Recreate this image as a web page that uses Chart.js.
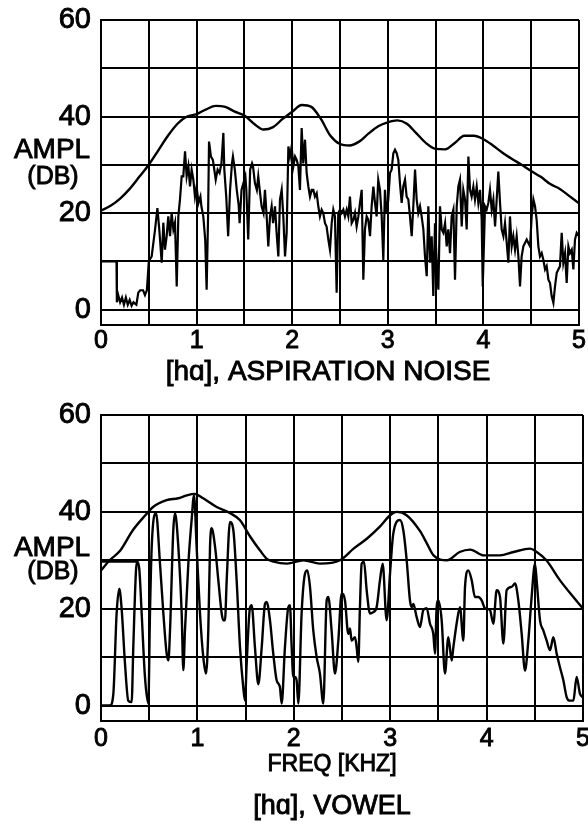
<!DOCTYPE html>
<html>
<head>
<meta charset="utf-8">
<script src="https://cdn.jsdelivr.net/npm/chart.js@4.4.0/dist/chart.umd.min.js"></script>
<style>
  body { margin: 0; background: #fff; }
  canvas { position: absolute; left: 0; }
  #noise { top: 0; }
  #vowel { top: 400px; }
</style>
</head>
<body>
<canvas id="noise" width="588" height="400"></canvas>
<canvas id="vowel" width="588" height="429"></canvas>
<script>
// tick positions shared by both panels
const freqTicks = [0, 0.5, 1, 1.5, 2, 2.5, 3, 3.5, 4, 4.5, 5];
const dbTicks = [0, 10, 20, 30, 40, 50, 60];

// [ha] aspiration noise: raw spectrum (kHz, dB)
const noiseFreq = [0, 0.162, 0.166, 0.18, 0.2, 0.22, 0.24, 0.26, 0.28, 0.3, 0.32, 0.34, 0.37, 0.39, 0.41, 0.44, 0.46, 0.48, 0.5, 0.53,
  0.565, 0.59, 0.61, 0.635, 0.652, 0.669, 0.687, 0.704, 0.722, 0.739, 0.757, 0.774, 0.792, 0.809, 0.826, 0.844, 0.861, 0.879, 0.896, 0.914,
  0.931, 0.948, 0.966, 0.983, 1.0, 1.02, 1.04, 1.05, 1.07, 1.09, 1.105, 1.12, 1.13, 1.15, 1.17, 1.18, 1.2, 1.22, 1.24, 1.26,
  1.28, 1.29, 1.31, 1.33, 1.35, 1.37, 1.38, 1.4, 1.42, 1.44, 1.45, 1.47, 1.49, 1.51, 1.52, 1.54, 1.56, 1.58, 1.59, 1.61,
  1.63, 1.645, 1.66, 1.68, 1.7, 1.715, 1.733, 1.75, 1.768, 1.785, 1.8, 1.82, 1.837, 1.855, 1.872, 1.89, 1.907, 1.925, 1.942, 1.96,
  1.977, 1.994, 2.012, 2.03, 2.047, 2.064, 2.081, 2.099, 2.116, 2.134, 2.151, 2.169, 2.186, 2.204, 2.221, 2.238, 2.256, 2.273, 2.29, 2.308,
  2.325, 2.343, 2.36, 2.378, 2.395, 2.413, 2.43, 2.447, 2.465, 2.482, 2.5, 2.517, 2.535, 2.552, 2.57, 2.587, 2.604, 2.622, 2.64, 2.657,
  2.674, 2.692, 2.709, 2.727, 2.744, 2.761, 2.779, 2.796, 2.814, 2.831, 2.849, 2.866, 2.883, 2.9, 2.918, 2.936, 2.953, 2.97, 2.988, 3.005,
  3.023, 3.04, 3.058, 3.075, 3.093, 3.11, 3.127, 3.145, 3.162, 3.18, 3.197, 3.215, 3.232, 3.25, 3.267, 3.285, 3.302, 3.319, 3.337, 3.354,
  3.372, 3.389, 3.407, 3.424, 3.442, 3.459, 3.476, 3.494, 3.511, 3.529, 3.546, 3.564, 3.581, 3.599, 3.616, 3.633, 3.651, 3.668, 3.686, 3.703,
  3.721, 3.738, 3.755, 3.773, 3.79, 3.808, 3.825, 3.843, 3.86, 3.877, 3.895, 3.912, 3.93, 3.947, 3.965, 3.982, 3.993, 4.017, 4.034, 4.052,
  4.069, 4.087, 4.104, 4.122, 4.139, 4.156, 4.174, 4.191, 4.209, 4.226, 4.244, 4.261, 4.278, 4.296, 4.313, 4.331, 4.348, 4.366, 4.383, 4.4,
  4.418, 4.435, 4.453, 4.47, 4.488, 4.505, 4.523, 4.54, 4.557, 4.575, 4.592, 4.61, 4.627, 4.645, 4.662, 4.68, 4.697, 4.714, 4.732, 4.749,
  4.767, 4.784, 4.801, 4.819, 4.836, 4.854, 4.871, 4.889, 4.906, 4.924, 4.941, 4.958, 4.976, 5.0];
const noiseDb = [10, 10, 1.5, 3, 1.5, 2.5, 1, 2.5, 1, 2, 0.8, 1.5, 1, 3.5, 4, 4, 3, 4, 10, 11,
  16.5, 21, 16.5, 9.7, 18, 12.4, 15.2, 19.3, 15.2, 20, 16.6, 18, 4.8, 19.3, 22.8, 27.6, 27.6, 32.8, 27.6, 29.7,
  25.5, 29, 26.9, 23.4, 25.5, 22.1, 23.4, 21.4, 19.3, 14.5, 4.1, 19.3, 34.8, 31.7, 31, 29.7, 26.9, 29, 28.3, 30.3,
  36.6, 29, 23.4, 15.2, 24.8, 30.3, 31.7, 29, 24.8, 21.7, 17.9, 24.8, 26.2, 27.6, 24.8, 14.5, 29, 30.3, 29.7, 26.2,
  24.8, 27.6, 24.8, 21.4, 20, 24.8, 19.3, 13.1, 19.3, 21.4, 17.9, 21.4, 15.9, 11, 22.8, 24.8, 19.3, 11, 15.9, 33.8,
  31.7, 33.8, 29.7, 31.7, 31, 29.7, 24.8, 37.6, 30.3, 35.2, 28.3, 25.5, 23.4, 24.8, 24.8, 23.4, 24.1, 21.4, 19.3, 20.7,
  20, 17.9, 17.2, 14.5, 12.4, 17.9, 20.7, 19.3, 3.5, 20, 20.7, 20, 20.7, 19.3, 20.7, 19.3, 23.4, 17.9, 18.6, 20,
  17.2, 19.3, 22.1, 24.8, 6.2, 16.6, 19.3, 18.6, 15.2, 21.4, 25.5, 22.1, 19.3, 26.9, 24.8, 19.3, 10.3, 24.8, 20, 22.8,
  28.3, 29, 32.4, 33.1, 32.4, 31, 26.2, 22.1, 25.5, 26.9, 23.4, 22.8, 19.3, 15.2, 21.4, 29, 22.8, 20, 21.4, 19.3,
  16.6, 11, 6.9, 21.4, 9.7, 15.2, 2.8, 17.9, 9.7, 4.1, 21.4, 16.6, 15.9, 17.9, 13.1, 16.6, 11.7, 19.3, 20.7, 6.2,
  21.4, 25.5, 26.9, 17.2, 24.8, 22.8, 16.6, 31.7, 24.8, 23.4, 25.5, 22.8, 25.5, 22.1, 24.8, 18.6, 4.8, 21.4, 20.7, 22.1,
  24.8, 20.7, 22.8, 17.2, 22.8, 28.6, 22.1, 16.6, 15.2, 17.9, 13.8, 9.7, 19.3, 13.1, 15.2, 12.4, 15.2, 11, 4.8, 11,
  13.1, 13.8, 14.5, 13.8, 13.1, 19.3, 22.8, 21.4, 18.6, 13.1, 11, 11.7, 10.3, 8.3, 9, 6.2, 5.5, 2.8, 1.4, 4.8,
  7.6, 8.3, 9, 15.9, 9.7, 11.7, 5.5, 13.1, 11.7, 12.4, 8.3, 14.5, 15.9, 15.2];

// [ha] aspiration noise: smoothed envelope
const noiseEnvFreq = [0, 0.1, 0.2, 0.3, 0.4, 0.5, 0.6, 0.7, 0.8, 0.9, 1.0, 1.1, 1.2, 1.3, 1.4, 1.5, 1.6, 1.7, 1.8, 1.9, 2.0,
  2.1, 2.2, 2.3, 2.4, 2.5, 2.6, 2.7, 2.8, 2.9, 3.0, 3.1, 3.2, 3.3, 3.4, 3.5, 3.6, 3.7, 3.8, 3.9, 4.0,
  4.1, 4.2, 4.3, 4.4, 4.5, 4.6, 4.7, 4.8, 4.9, 5.0];
const noiseEnvDb = [20.5, 21.5, 23, 25, 27.5, 30, 33, 36, 38.5, 40, 40.5, 41.5, 42.2, 42, 41, 40.2, 38.5, 37.3, 37.8, 39.5, 41,
  42.4, 42, 39.5, 36, 34.3, 34, 34.8, 36.5, 38, 38.8, 39.2, 38.5, 36.5, 34.5, 33.3, 33.2, 34.5, 36, 36, 35.3,
  34, 32.5, 31.2, 30, 28.7, 27.5, 26, 25, 23.5, 22];

// [ha] vowel: harmonic spectrum
const vowelFreq = [0, 0.093, 0.128, 0.162, 0.19, 0.214, 0.249, 0.283, 0.318, 0.335, 0.363, 0.377, 0.398, 0.422, 0.456, 0.491, 0.508, 0.526, 0.571, 0.612,
  0.647, 0.681, 0.699, 0.716, 0.75, 0.768, 0.802, 0.837, 0.854, 0.871, 0.906, 0.94, 0.965, 0.992, 1.027, 1.061, 1.089, 1.113, 1.131, 1.148,
  1.183, 1.217, 1.252, 1.269, 1.286, 1.304, 1.338, 1.373, 1.407, 1.442, 1.476, 1.494, 1.511, 1.546, 1.563, 1.597, 1.632, 1.667, 1.701, 1.718,
  1.753, 1.787, 1.822, 1.856, 1.874, 1.908, 1.943, 1.96, 1.978, 1.995, 2.012, 2.029, 2.047, 2.081, 2.116, 2.14, 2.168, 2.202, 2.237, 2.271,
  2.306, 2.341, 2.358, 2.392, 2.427, 2.462, 2.496, 2.531, 2.565, 2.583, 2.6, 2.635, 2.652, 2.669, 2.686, 2.704, 2.728, 2.756, 2.79, 2.825,
  2.859, 2.894, 2.922, 2.963, 2.998, 3.032, 3.101, 3.136, 3.171, 3.205, 3.222, 3.24, 3.274, 3.309, 3.343, 3.378, 3.413, 3.447, 3.465, 3.482,
  3.499, 3.534, 3.568, 3.603, 3.638, 3.655, 3.689, 3.724, 3.759, 3.776, 3.81, 3.845, 3.88, 3.914, 3.949, 3.983, 4.035, 4.07, 4.104, 4.139,
  4.174, 4.208, 4.26, 4.295, 4.329, 4.364, 4.398, 4.433, 4.467, 4.502, 4.519, 4.554, 4.588, 4.623, 4.658, 4.692, 4.727, 4.761, 4.796, 4.831,
  4.865, 4.9, 4.934, 4.969, 5.0];
const vowelDb = [0, 0, 2.4, 19, 24.1, 20, 8.6, 1, 0.7, 12, 27.9, 29.7, 28, 19, 5.9, 0.4, 19, 32.8, 39.7, 29.3,
  19, 10.7, 9.3, 15.5, 36.2, 39.7, 32.8, 19, 7.3, 15.5, 29.3, 38.3, 43.4, 32.8, 19, 10, 6.6, 15.5, 32.8, 36.6,
  32.8, 25.9, 19, 17.6, 17.6, 25.9, 37.9, 36.2, 25.9, 12, 3.7, 1, 8.6, 20.3, 20.7, 12, 4.4, 12, 21, 21.4,
  17.6, 10.7, 5.2, 3.8, 0.4, 12, 20.3, 20.7, 12, 5.9, 5.9, 5.2, 0.4, 19, 27.2, 27.9, 24.5, 15.5, 10, 6.6,
  0.4, 21.7, 22.4, 15.5, 6.6, 13.4, 23.1, 21.7, 14.8, 15.9, 13.4, 14.1, 12, 9, 20.3, 29.3, 29.7, 23.8, 19, 19.3,
  20.3, 25.9, 29.3, 17.6, 27.2, 35.5, 38.3, 36.2, 30, 21.7, 20.3, 21, 18.3, 16.2, 19.7, 20.1, 16.9, 14.8, 10.7, 20.3,
  21.7, 17.6, 6.6, 14.1, 9.3, 12, 16.9, 20.3, 13.4, 24.5, 27.9, 25.9, 22.4, 22.4, 21.7, 20.1, 19.7, 16.9, 23.8, 22.4,
  12.8, 23.8, 24.5, 25.2, 21.7, 14.8, 7.2, 13.4, 22.4, 29.3, 25.9, 17.6, 15.5, 13.4, 11.4, 14.1, 10.7, 7.9, 5.2, 1.7,
  1, 1, 5.9, 2.4, 1.7];

// flat pen stroke at the start of the vowel trace
const vowelLeadFreq = [0, 0.377];
const vowelLeadDb = [29.7, 29.7];

// [ha] vowel: smoothed envelope
const vowelEnvFreq = [0, 0.09, 0.2, 0.33, 0.46, 0.54, 0.68, 0.8, 0.89, 0.97, 1.06, 1.2, 1.34, 1.44, 1.55, 1.65, 1.72, 1.79, 1.93, 2.1,
  2.27, 2.48, 2.62, 2.76, 2.89, 3.0, 3.07, 3.17, 3.31, 3.38, 3.45, 3.59, 3.72, 3.83, 3.97, 4.14, 4.28, 4.45, 4.52, 4.62,
  4.76, 4.9, 5.0];
const vowelEnvDb = [27.9, 30, 32, 36.2, 39.3, 41, 42.4, 42.8, 43.4, 43.7, 42.8, 41, 39.7, 38.3, 34.8, 32, 30.3, 29.7, 29.3, 30,
  29.3, 30, 32.4, 34.5, 36.9, 39.3, 40, 39.3, 36, 33.5, 31, 30, 31.7, 32.2, 31, 31, 31.7, 32.4, 31.7, 30,
  25.9, 22.4, 20];

const FONT = "'Liberation Sans', Arial, sans-serif";

const toPoints = (xs, ys) => xs.map((x, i) => ({ x: x, y: ys[i] }));

// horizontal text: axis name beside the dB scale and the captions under each panel
const panelText = {
  id: 'panelText',
  afterDraw(chart, args, opts) {
    const ctx = chart.ctx;
    ctx.save();
    ctx.fillStyle = '#000';
    ctx.strokeStyle = '#000';
    ctx.lineWidth = 0.9;
    ctx.textAlign = 'center';
    ctx.textBaseline = 'middle';
    for (const t of opts.items || []) {
      ctx.font = t.size + 'px ' + FONT;
      const y = t.db !== undefined ? chart.scales.y.getPixelForValue(t.db) : t.y;
      ctx.fillText(t.text, t.x, y);
      ctx.strokeText(t.text, t.x, y);
    }
    ctx.restore();
  }
};

// curved = rounded peaks (envelopes, vowel harmonics), otherwise straight pen strokes
function trace(xs, ys, curved, width) {
  return {
    data: toPoints(xs, ys),
    borderColor: '#000',
    borderWidth: width,
    pointRadius: 0,
    fill: false,
    tension: 0,
    cubicInterpolationMode: curved ? 'monotone' : 'default'
  };
}

function spectrumChart(id, datasets, pad, xHeight, tickPad, items) {
  return new Chart(document.getElementById(id), {
    type: 'line',
    data: { datasets: datasets },
    plugins: [panelText],
    options: {
      responsive: false,
      animation: false,
      devicePixelRatio: 1,
      layout: { autoPadding: false, padding: pad },
      plugins: {
        legend: { display: false },
        tooltip: { enabled: false },
        panelText: { items: items }
      },
      scales: {
        x: {
          type: 'linear',
          min: 0,
          max: 5,
          afterBuildTicks: s => { s.ticks = freqTicks.map(v => ({ value: v })); },
          // fixed band height; no extra room for the end labels
          afterFit: s => { s.height = xHeight; s.paddingLeft = 0; s.paddingRight = 0; },
          grid: { color: '#000', lineWidth: 2, drawTicks: false },
          border: { color: '#000', width: 2 },
          ticks: {
            padding: tickPad,
            autoSkip: false,
            maxRotation: 0,
            color: '#000',
            textStrokeColor: '#000',
            textStrokeWidth: 0.9,
            font: { family: FONT, size: 25 },
            callback: v => Number.isInteger(v) ? String(v) : ''
          }
        },
        y: {
          type: 'linear',
          min: -3.2,
          max: 60,
          afterBuildTicks: s => { s.ticks = dbTicks.map(v => ({ value: v })); },
          afterFit: s => { s.width = 101; s.paddingTop = 0; s.paddingBottom = 0; },
          grid: { color: '#000', lineWidth: 2, drawTicks: false },
          border: { color: '#000', width: 2 },
          ticks: {
            padding: 10,
            color: '#000',
            textStrokeColor: '#000',
            textStrokeWidth: 0.9,
            font: { family: FONT, size: 29 },
            callback: v => v % 20 === 0 ? String(v) : ''
          }
        }
      }
    }
  });
}

spectrumChart('noise',
  [trace(noiseEnvFreq, noiseEnvDb, true, 2.4), trace(noiseFreq, noiseDb, false, 2.2)],
  { top: 20, right: 9, left: 0, bottom: 0 }, 75, 1,
  [
    { text: 'AMPL', x: 52, db: 33, size: 28 },
    { text: '(DB)', x: 53, db: 27.5, size: 25 },
    { text: '[hɑ], ASPIRATION NOISE', x: 328, y: 372, size: 28 }
  ]);

spectrumChart('vowel',
  [trace(vowelEnvFreq, vowelEnvDb, true, 2.4), trace(vowelLeadFreq, vowelLeadDb, false, 2.2),
    trace(vowelFreq, vowelDb, true, 2.4)],
  { top: 15, right: 5, left: 0, bottom: 0 }, 108, 3,
  [
    { text: 'AMPL', x: 52, db: 32.5, size: 28 },
    { text: '(DB)', x: 53, db: 27.5, size: 25 },
    { text: 'FREQ [KHZ]', x: 332, y: 365, size: 23 },
    { text: '[hɑ], VOWEL', x: 332, y: 407, size: 27 }
  ]);
</script>
</body>
</html>
